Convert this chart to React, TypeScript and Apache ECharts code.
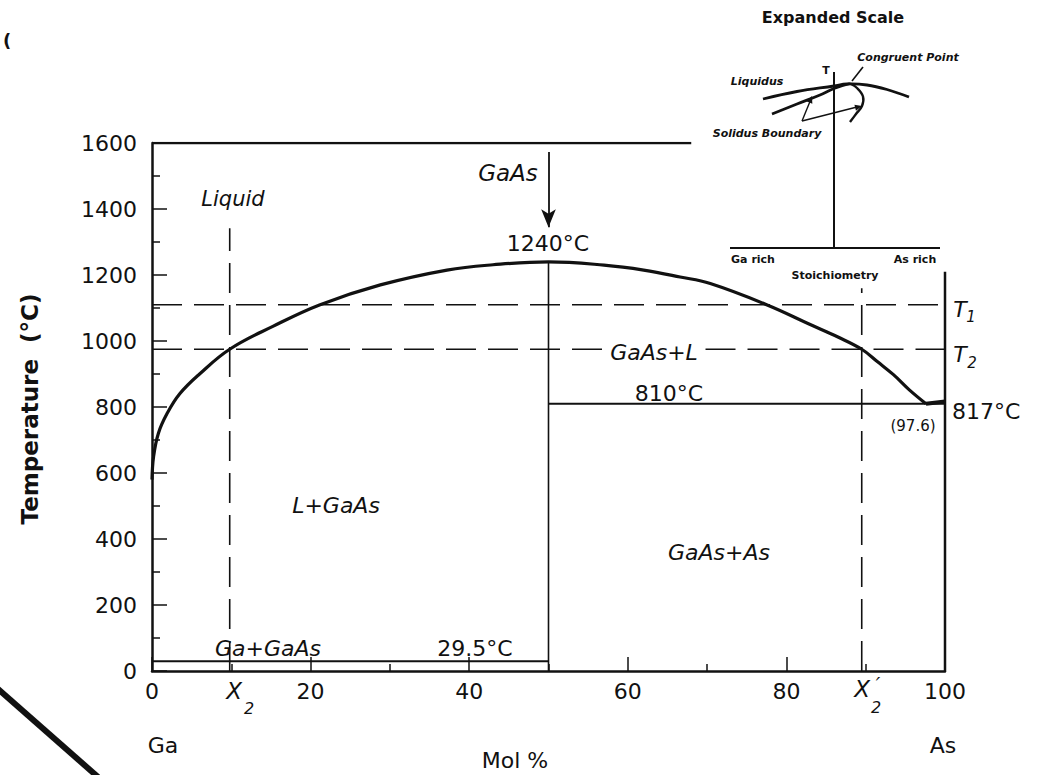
import React, { useEffect, useRef } from "react";
import * as echarts from "echarts";

// Ga–As phase diagram: liquidus readings (mol % As, °C)
const liquidusX = [0, 0.2, 0.8, 1.9, 3.5, 6, 9.8, 15.3, 21.2, 28.8, 37.2, 43, 50, 57, 62, 66.6, 70.4, 77.5, 83, 86.5, 89.5, 91.5, 93.5, 95.5, 97.6];
const liquidusT = [580, 650, 720, 780, 840, 900, 975, 1045, 1110, 1170, 1215, 1231, 1240, 1230, 1215, 1194, 1174, 1110, 1050, 1012, 975, 937, 898, 852, 810];

// Invariant points
const congruentX = 50;
const congruentT = 1240;
const gaMeltT = 29.5;
const eutecticX = 97.6;
const eutecticT = 810;
const asMeltT = 817;

// Isotherms and compositions used in the lever-rule construction
const t1 = 1110;
const t2 = 975;
const x2 = 9.8;
const x2Prime = 89.5;

const xTicks = [0, 20, 40, 60, 80, 100];
const yTicks = [0, 200, 400, 600, 800, 1000, 1200, 1400, 1600];

const FONT = '"DejaVu Sans", "Liberation Sans", sans-serif';
const BLACK = "#111";

function seg(points: number[][], width: number, dashed = false): any {
  return {
    type: "line",
    data: points,
    symbol: "none",
    silent: true,
    lineStyle: {
      color: BLACK,
      width,
      type: dashed ? [30, 12] : "solid",
    },
    z: 3,
  };
}

function txt(x: number, y: number, text: string, size: number, opts: any = {}): any {
  const weight = opts.bold ? "bold " : "";
  const style = opts.italic ? "italic " : "";
  return {
    type: "text",
    x,
    y,
    rotation: opts.rotation || 0,
    z: 10,
    style: {
      text,
      fill: BLACK,
      font: `${style}${weight}${size}px ${FONT}`,
      align: opts.align || "center",
      verticalAlign: "middle",
    },
  };
}

function pl(points: number[][], width: number, smooth = 0): any {
  return {
    type: "polyline",
    z: 10,
    shape: { points, smooth },
    style: { stroke: BLACK, lineWidth: width, fill: null },
  };
}

function head(tip: number[], from: number[], size: number): any {
  const dx = tip[0] - from[0];
  const dy = tip[1] - from[1];
  const len = Math.hypot(dx, dy) || 1;
  const ux = dx / len;
  const uy = dy / len;
  const bx = tip[0] - ux * size;
  const by = tip[1] - uy * size;
  const w = size * 0.45;
  return {
    type: "polygon",
    z: 10,
    shape: {
      points: [tip, [bx - uy * w, by + ux * w], [bx + uy * w, by - ux * w]],
    },
    style: { fill: BLACK },
  };
}

export default function App() {
  const ref = useRef<HTMLDivElement>(null);

  useEffect(() => {
    if (!ref.current) return;
    const chart = echarts.init(ref.current, null, { renderer: "svg" });

    const liquidus = liquidusX.map((x, i) => [x, liquidusT[i]]);

    const option: any = {
      animation: false,
      backgroundColor: "#fff",
      grid: { left: 152, right: 97, top: 143, bottom: 104 },
      xAxis: {
        type: "value",
        min: 0,
        max: 100,
        interval: 20,
        axisLine: { show: true, lineStyle: { color: BLACK, width: 2.5 } },
        axisTick: { show: true, inside: true, length: 14, lineStyle: { color: BLACK, width: 1.5 } },
        minorTick: { show: true, splitNumber: 2, length: 7, lineStyle: { color: BLACK, width: 1.5 } },
        splitLine: { show: false },
        axisLabel: {
          color: BLACK,
          fontFamily: FONT,
          fontSize: 22,
          margin: 9,
          formatter: (v: number) => (xTicks.includes(v) ? String(v) : ""),
        },
      },
      yAxis: {
        type: "value",
        min: 0,
        max: 1600,
        interval: 200,
        axisLine: { show: true, lineStyle: { color: BLACK, width: 2.5 } },
        axisTick: { show: true, inside: true, length: 15, lineStyle: { color: BLACK, width: 1.5 } },
        minorTick: { show: true, splitNumber: 2, length: 8, lineStyle: { color: BLACK, width: 1.5 } },
        splitLine: { show: false },
        axisLabel: {
          color: BLACK,
          fontFamily: FONT,
          fontSize: 22,
          margin: 15,
          formatter: (v: number) => (yTicks.includes(v) ? String(v) : ""),
        },
      },
      series: [
        {
          type: "line",
          data: liquidus,
          symbol: "none",
          smooth: 0.4,
          silent: true,
          lineStyle: { color: BLACK, width: 3.2 },
          z: 4,
        },
        // congruent composition down to the axis
        seg([[congruentX, 0], [congruentX, congruentT]], 1.6),
        // GaAs + As eutectic isotherm
        seg([[congruentX, eutecticT], [100, eutecticT]], 2),
        // liquidus end on the As side
        seg([[eutecticX, eutecticT], [100, asMeltT]], 4),
        // Ga melting isotherm
        seg([[0, gaMeltT], [congruentX, gaMeltT]], 2),
        // frame: right edge and top edge
        seg([[100, 0], [100, 1210]], 2.5),
        seg([[0, 1600], [68, 1600]], 2.5),
        // isotherms T1, T2 (T2 broken for its label)
        seg([[0, t1], [100, t1]], 1.6, true),
        seg([[0, t2], [56.8, t2]], 1.6, true),
        seg([[69.8, t2], [100, t2]], 1.6, true),
        // compositions X2, X2'
        seg([[x2, 0], [x2, 1342]], 1.6, true),
        seg([[x2Prime, 0], [x2Prime, 1160]], 1.6, true),
        {
          type: "line",
          data: [],
          silent: true,
          markLine: {
            silent: true,
            symbol: ["none", "arrow"],
            symbolSize: [11, 18],
            label: { show: false },
            lineStyle: { color: BLACK, width: 1.8, type: "solid" },
            data: [[{ coord: [congruentX, 1573] }, { coord: [congruentX, 1345] }]],
          },
        },
      ],
      graphic: [
        // axis titles and end-member labels
        txt(30, 409, "Temperature  (°C)", 23, { bold: true, rotation: Math.PI / 2 }),
        txt(515, 760, "Mol %", 22),
        txt(163, 745, "Ga", 22),
        txt(943, 745, "As", 22),
        txt(234, 691, "X", 23, { italic: true }),
        txt(249, 708, "2", 16, { italic: true }),
        txt(862, 689, "X", 23, { italic: true }),
        txt(878, 684, "′", 20, { italic: true }),
        txt(876, 707, "2", 16, { italic: true }),

        // field labels
        txt(233, 199, "Liquid", 21, { italic: true }),
        txt(508, 173, "GaAs", 23, { italic: true }),
        txt(548, 243, "1240°C", 22),
        txt(654, 352, "GaAs+L", 22, { italic: true }),
        txt(669, 393, "810°C", 22),
        txt(952, 411, "817°C", 22, { align: "left" }),
        txt(913, 426, "(97.6)", 15),
        txt(960, 309, "T", 22, { italic: true }),
        txt(971, 317, "1", 15, { italic: true }),
        txt(960, 354, "T", 22, { italic: true }),
        txt(972, 363, "2", 15, { italic: true }),
        txt(336, 505, "L+GaAs", 22, { italic: true }),
        txt(719, 552, "GaAs+As", 22, { italic: true }),
        txt(268, 648, "Ga+GaAs", 22, { italic: true }),
        txt(475, 648, "29.5°C", 22),

        // expanded-scale inset
        txt(833, 17, "Expanded Scale", 16, { bold: true }),
        txt(908, 57, "Congruent Point", 11, { italic: true, bold: true }),
        txt(757, 81, "Liquidus", 11, { italic: true, bold: true }),
        txt(826, 70, "T", 11, { bold: true }),
        txt(767, 133, "Solidus Boundary", 11, { italic: true, bold: true }),
        txt(753, 259, "Ga rich", 11, { bold: true }),
        txt(915, 259, "As rich", 11, { bold: true }),
        txt(835, 275, "Stoichiometry", 11, { bold: true }),
        pl([[834, 72], [834, 248]], 2),
        pl([[730, 248], [940, 248]], 2),
        pl([[763, 99], [797, 91.5], [834, 86], [847, 84], [867, 85], [887, 89.5], [909, 97]], 2.8, 0.4),
        pl([[772, 114], [797, 104], [820, 95], [834, 88.5], [850, 83.5]], 2.8, 0.4),
        pl([[850, 83.5], [857, 88], [863, 96.5], [862, 106], [856, 114], [850, 122]], 2.4, 0.4),
        pl([[863, 67], [852, 81]], 1.6),
        pl([[802, 121], [811, 99]], 1.4),
        head([812, 96], [802, 121], 7),
        pl([[802, 121], [857, 107]], 1.4),
        head([862, 106], [802, 121], 7),

        // page-edge marks
        txt(7, 40, "(", 18, { bold: true }),
        {
          type: "line",
          z: 10,
          shape: { x1: -2, y1: 689, x2: 98, y2: 777 },
          style: { stroke: BLACK, lineWidth: 6 },
        },
      ],
    };

    chart.setOption(option);
    return () => chart.dispose();
  }, []);

  return (
    <div
      ref={ref}
      style={{ position: "absolute", left: 0, top: 0, width: 1042, height: 775, background: "#fff" }}
    />
  );
}
